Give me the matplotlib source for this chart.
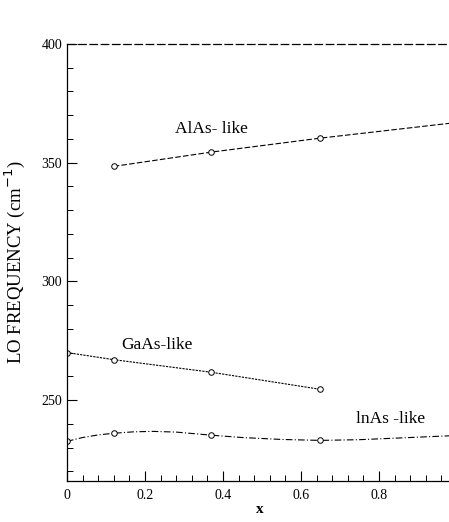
import matplotlib
matplotlib.use("Agg")
import matplotlib.pyplot as plt
from matplotlib.ticker import MultipleLocator

# Data
alas_x = [0.12, 0.37, 0.65]
alas_y = [348.4, 354.4, 360.3]
alas_line_x = [0.12, 0.37, 0.65, 0.99]
alas_line_y = [348.4, 354.4, 360.3, 366.7]

gaas_x = [0.0, 0.12, 0.37, 0.65]
gaas_y = [270.0, 267.0, 261.7, 254.5]

inas_x = [0.0, 0.12, 0.37, 0.65]
inas_y = [232.6, 236.0, 235.2, 233.0]
inas_curve_x = [0.0, 0.04, 0.08, 0.12, 0.17, 0.22, 0.28, 0.37, 0.45, 0.55, 0.65, 0.75, 0.85, 0.99]
inas_curve_y = [232.6, 234.2, 235.3, 236.0, 236.6, 236.8, 236.5, 235.2, 234.2, 233.4, 233.0, 233.3, 234.0, 235.0]

xticks = [0, 0.2, 0.4, 0.6, 0.8]
xticklabels = ["0", "0.2", "0.4", "0.6", "0.8"]
yticks = [250, 300, 350, 400]

serif = ["Liberation Serif", "DejaVu Serif"]
plt.rcParams["font.family"] = serif

fig = plt.figure(figsize=(4.49, 5.22), dpi=100)
ax = fig.add_axes([0.149, 0.079, 0.86, 0.837])

ax.plot(alas_line_x, alas_line_y, color="black", lw=0.8, ls=(0, (5, 2)))
ax.plot(alas_x, alas_y, ls="none", marker="o", ms=4, mfc="white", mec="black", mew=0.7)

ax.plot(gaas_x, gaas_y, color="black", lw=0.8, ls=(0, (2, 1)))
ax.plot(gaas_x, gaas_y, ls="none", marker="o", ms=4, mfc="white", mec="black", mew=0.7)

ax.plot(inas_curve_x, inas_curve_y, color="black", lw=0.8, ls=(0, (6, 2, 1, 2)))
ax.plot(inas_x, inas_y, ls="none", marker="o", ms=4, mfc="white", mec="black", mew=0.7)

ax.text(0.37, 364.0, "AlAs- like", fontsize=12.5, ha="center", va="center")
ax.text(0.23, 273.0, "GaAs-like", fontsize=12.5, ha="center", va="center")
ax.text(0.83, 242.0, "lnAs -like", fontsize=12.5, ha="center", va="center")

ax.set_xlim(0, 0.99)
ax.set_ylim(216, 400)
ax.set_xticks(xticks)
ax.set_xticklabels(xticklabels)
ax.set_yticks(yticks)
ax.xaxis.set_minor_locator(MultipleLocator(0.04))
ax.yaxis.set_minor_locator(MultipleLocator(10))
ax.tick_params(which="major", direction="in", length=7, width=0.8, labelsize=10, top=False, right=False)
ax.tick_params(which="minor", direction="in", length=4, width=0.7, top=False, right=False)
ax.tick_params(axis="x", pad=6)

for s in ["left", "bottom"]:
    ax.spines[s].set_linewidth(0.9)
ax.spines["right"].set_visible(False)
ax.spines["top"].set_linestyle((0, (6, 3)))
ax.spines["top"].set_linewidth(0.9)

ax.set_ylabel("LO FREQUENCY (cm$^{-1}$)", fontsize=13.5, labelpad=10)
ax.set_xlabel("x", fontsize=11, fontweight="bold", labelpad=1)

fig.savefig("out.png", dpi=100)
